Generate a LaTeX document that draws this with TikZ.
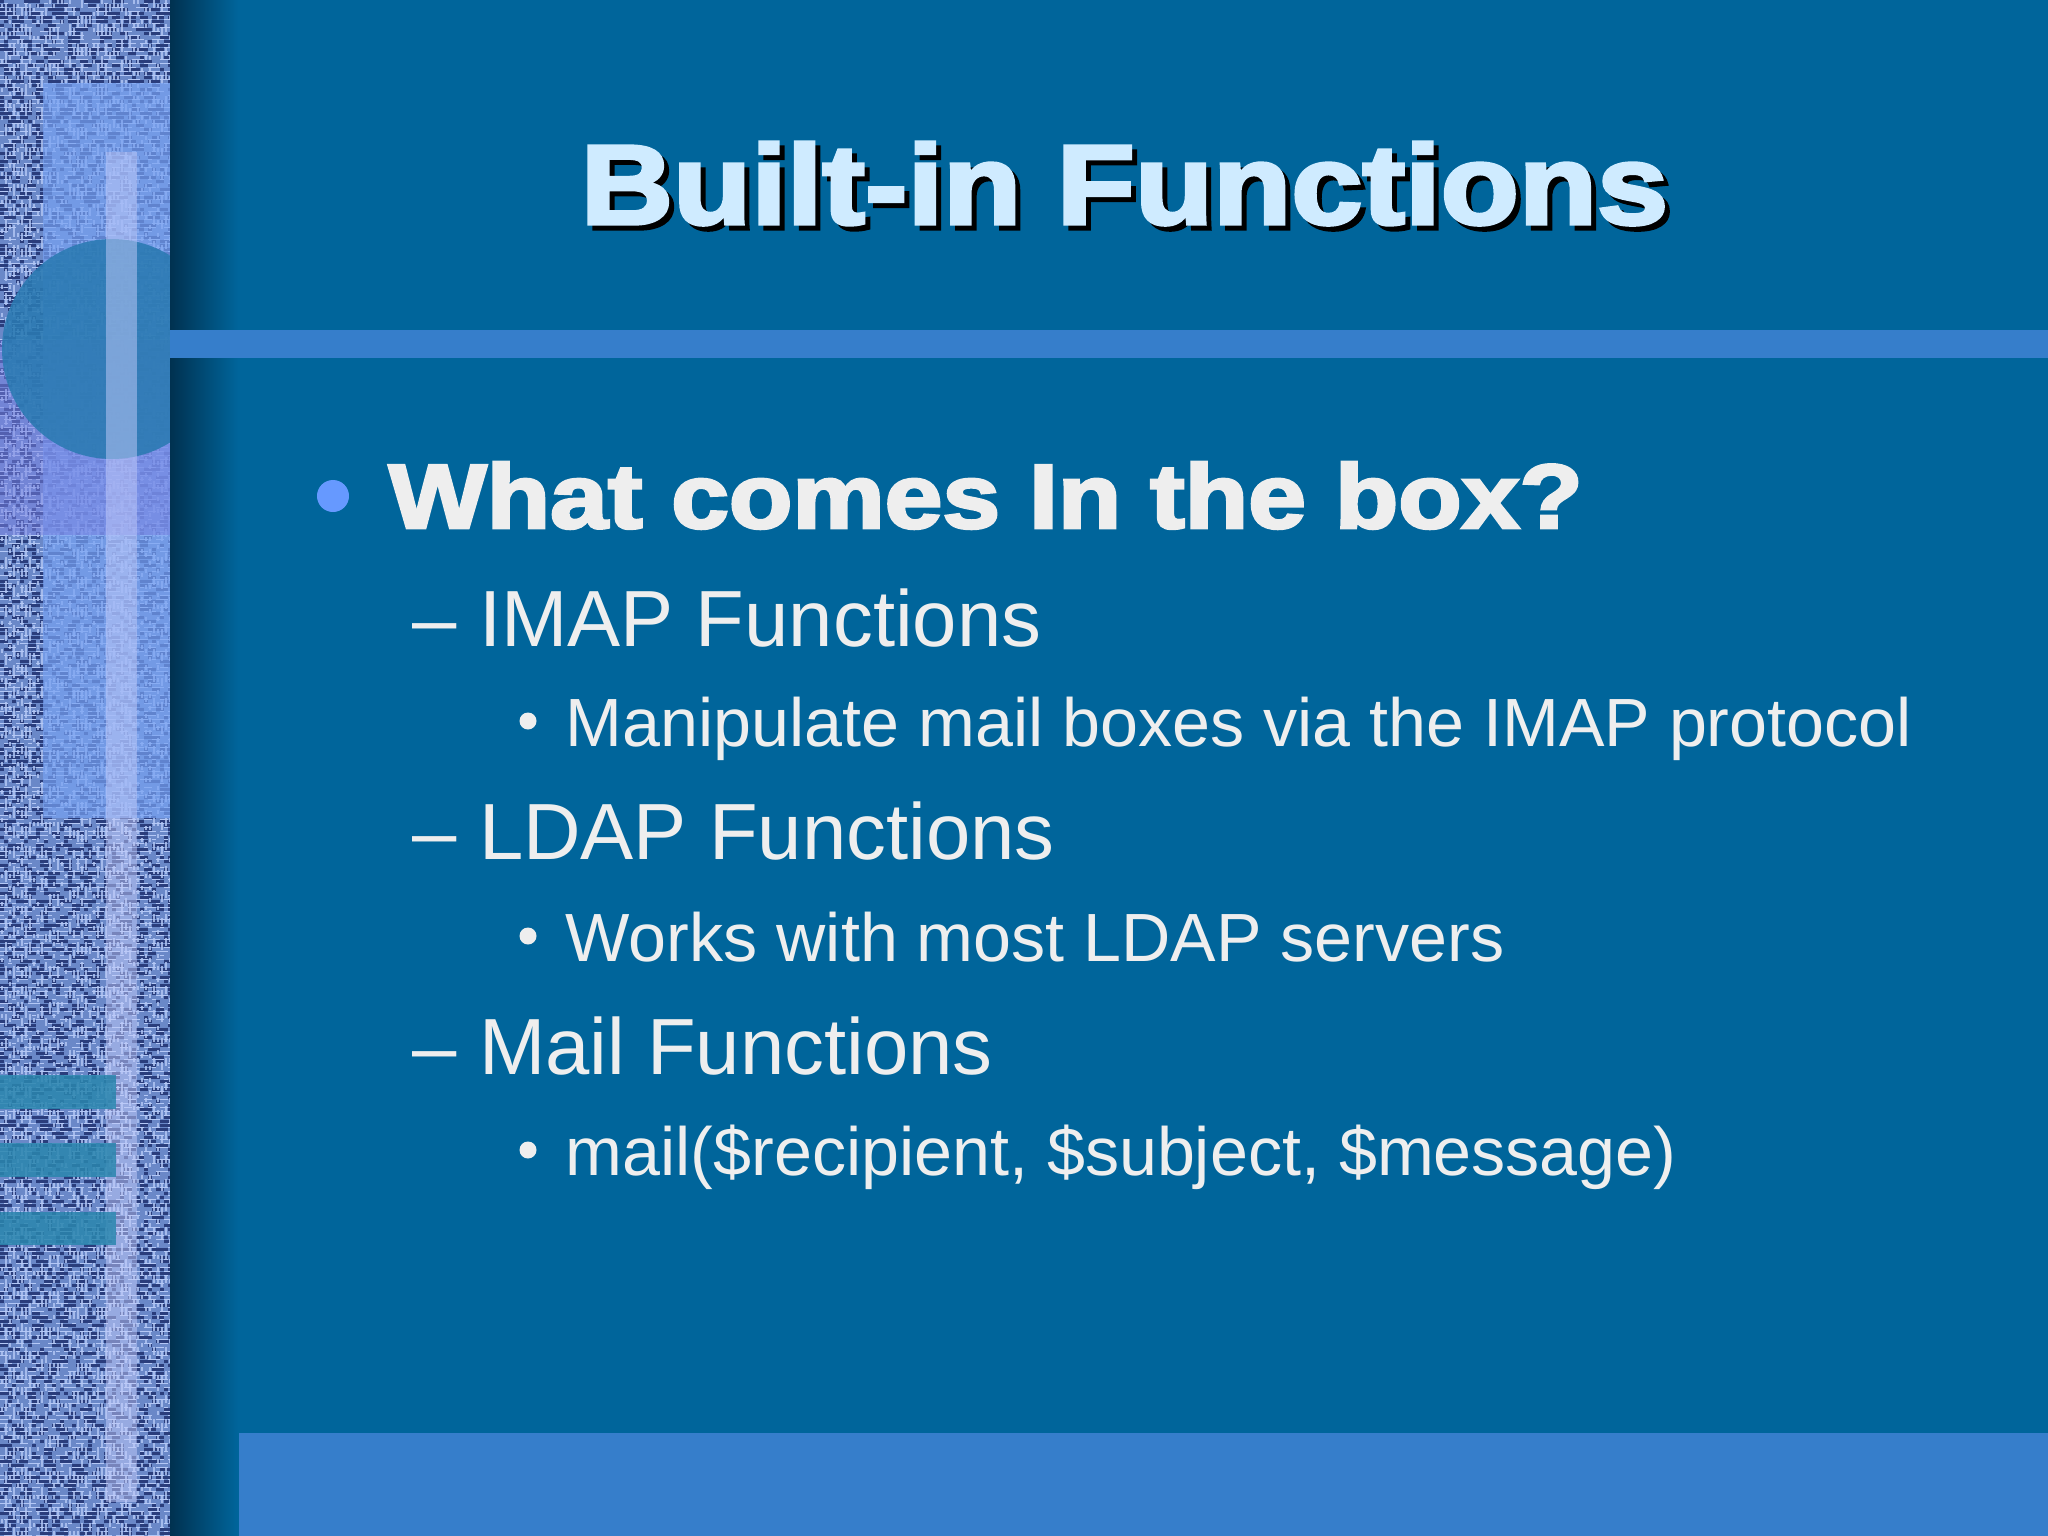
\documentclass[tikz,border=0pt]{standalone}
\usepackage{fontspec}
\setmainfont{Liberation Sans}
\newfontfamily\heavyfont{Liberation Sans Bold}[FakeBold=3]
\definecolor{bg}{HTML}{00659B}
\definecolor{barblue}{HTML}{367ECB}
\definecolor{denimmid}{HTML}{6A88C8}
\definecolor{denimdark}{HTML}{2A3D7C}
\definecolor{denimlight}{HTML}{B4C8F6}
\definecolor{lightrect}{HTML}{78A2F2}
\definecolor{lavender}{HTML}{7C84E4}
\definecolor{circblue}{HTML}{2A7AB2}
\definecolor{palebar}{HTML}{C4CCFA}
\definecolor{tealbar}{HTML}{2A86AE}
\definecolor{shadowdark}{HTML}{003150}
\definecolor{titlecol}{HTML}{CFEBFF}
\definecolor{textcol}{HTML}{EEEEEE}
\definecolor{bulletblue}{HTML}{6699FF}
\tikzset{
  titletext/.style={anchor=base west, inner sep=0pt, font=\heavyfont\fontsize{32.2}{38}\selectfont},
  lvlone/.style={anchor=base west, inner sep=0pt, text=textcol, font=\heavyfont\fontsize{25.9}{31}\selectfont},
  lvltwo/.style={anchor=base west, inner sep=0pt, text=textcol, font=\fontsize{22.65}{27}\selectfont},
  lvlthree/.style={anchor=base west, inner sep=0pt, text=textcol, font=\fontsize{19.4}{23}\selectfont},
  smalldot/.style={circle, fill=textcol, inner sep=0pt, minimum size=0.17cm},
  bigdot/.style={circle, fill=bulletblue, inner sep=0pt, minimum size=0.32cm}
}
\begin{document}
\begin{tikzpicture}[x=0.01cm,y=-0.01cm]
\useasboundingbox (0,0) rectangle (2048,1536);
\fill[bg] (0,0) rectangle (2048,1536);
% textured strip
\fill[denimmid] (0,0) rectangle (170,1536);
\pgfmathsetseed{7}
\begin{scope}
\clip (0,0) rectangle (170,1536);
\foreach \r in {0,...,383}{
  \pgfmathsetmacro\yy{\r*4+1.5}
  \pgfmathsetmacro\yb{\r*4+3.5}
  \pgfmathsetmacro\da{random(1,4)*1.14}
  \pgfmathsetmacro\db{random(1,5)*1.14}
  \pgfmathsetmacro\dc{random(1,3)*1.14}
  \pgfmathsetmacro\dd{random(1,5)*1.14}
  \pgfmathsetmacro\dp{random(0,20)*1.14}
  \pgfmathsetmacro\ea{random(1,3)*1.14}
  \pgfmathsetmacro\eb{random(1,5)*1.14}
  \pgfmathsetmacro\ep{random(0,20)*1.14}
  \begin{scope}
    \pgfsetdash{{\da pt}{\db pt}{\dc pt}{\dd pt}}{\dp pt}
    \draw[denimdark, line width=0.65pt] (0,\yy) -- (170,\yy);
  \end{scope}
  \begin{scope}
    \pgfsetdash{{\ea pt}{\eb pt}}{\ep pt}
    \draw[denimlight, line width=0.5pt] (0,\yb) -- (170,\yb);
  \end{scope}
}
\foreach \c in {0,...,42}{
  \pgfmathsetmacro\xx{\c*4+2}
  \pgfmathsetmacro\fa{random(1,3)*1.14}
  \pgfmathsetmacro\fb{random(2,6)*1.14}
  \pgfmathsetmacro\fp{random(0,20)*1.14}
  \begin{scope}
    \pgfsetdash{{\fa pt}{\fb pt}}{\fp pt}
    \draw[denimlight, line width=0.45pt, opacity=0.8] (\xx,0) -- (\xx,1536);
  \end{scope}
}
\fill[lightrect, opacity=0.7] (43,83) rectangle (170,818);
\fill[lavender, opacity=0.5] (0,340) rectangle (170,535);
\fill[circblue, opacity=0.88] (112,349) circle (110);
\fill[palebar, opacity=0.5] (106,152) rectangle (137,1502);
\fill[tealbar, opacity=0.85] (0,1075) rectangle (116,1109);
\fill[tealbar, opacity=0.85] (0,1143) rectangle (116,1177);
\fill[tealbar, opacity=0.85] (0,1212) rectangle (116,1245);
\end{scope}
% shadow gradient next to strip
\shade[left color=shadowdark, right color=bg] (170,0) rectangle (238,1536);
% bars
\fill[barblue] (170,330) rectangle (2048,358);
\fill[barblue] (239,1433) rectangle (2048,1536);
% title
\node[titletext, text=black] (titleshadow) at (585,229) {\scalebox{1.13}[1]{Built-in Functions}};
\node[titletext, text=titlecol] (title) at (580,224) {\scalebox{1.13}[1]{Built-in Functions}};
% level 1
\node[bigdot] (b1) at (333,496) {};
\node[lvlone] (l1) at (388,528) {\scalebox{1.14}[1]{What comes In the box?}};
% level 2 and 3
\node[lvltwo] (imap) at (412,646) {– IMAP Functions};
\node[smalldot] (b2) at (528,721) {};
\node[lvlthree] (imapd) at (565,746) {Manipulate mail boxes via the IMAP protocol};
\node[lvltwo] (ldap) at (412,859) {– LDAP Functions};
\node[smalldot] (b3) at (528,936) {};
\node[lvlthree] (ldapd) at (565,961) {Works with most LDAP servers};
\node[lvltwo] (mail) at (412,1074) {– Mail Functions};
\node[smalldot] (b4) at (528,1150) {};
\node[lvlthree] (maild) at (565,1175) {mail(\$recipient, \$subject, \$message)};
\end{tikzpicture}
\end{document}
